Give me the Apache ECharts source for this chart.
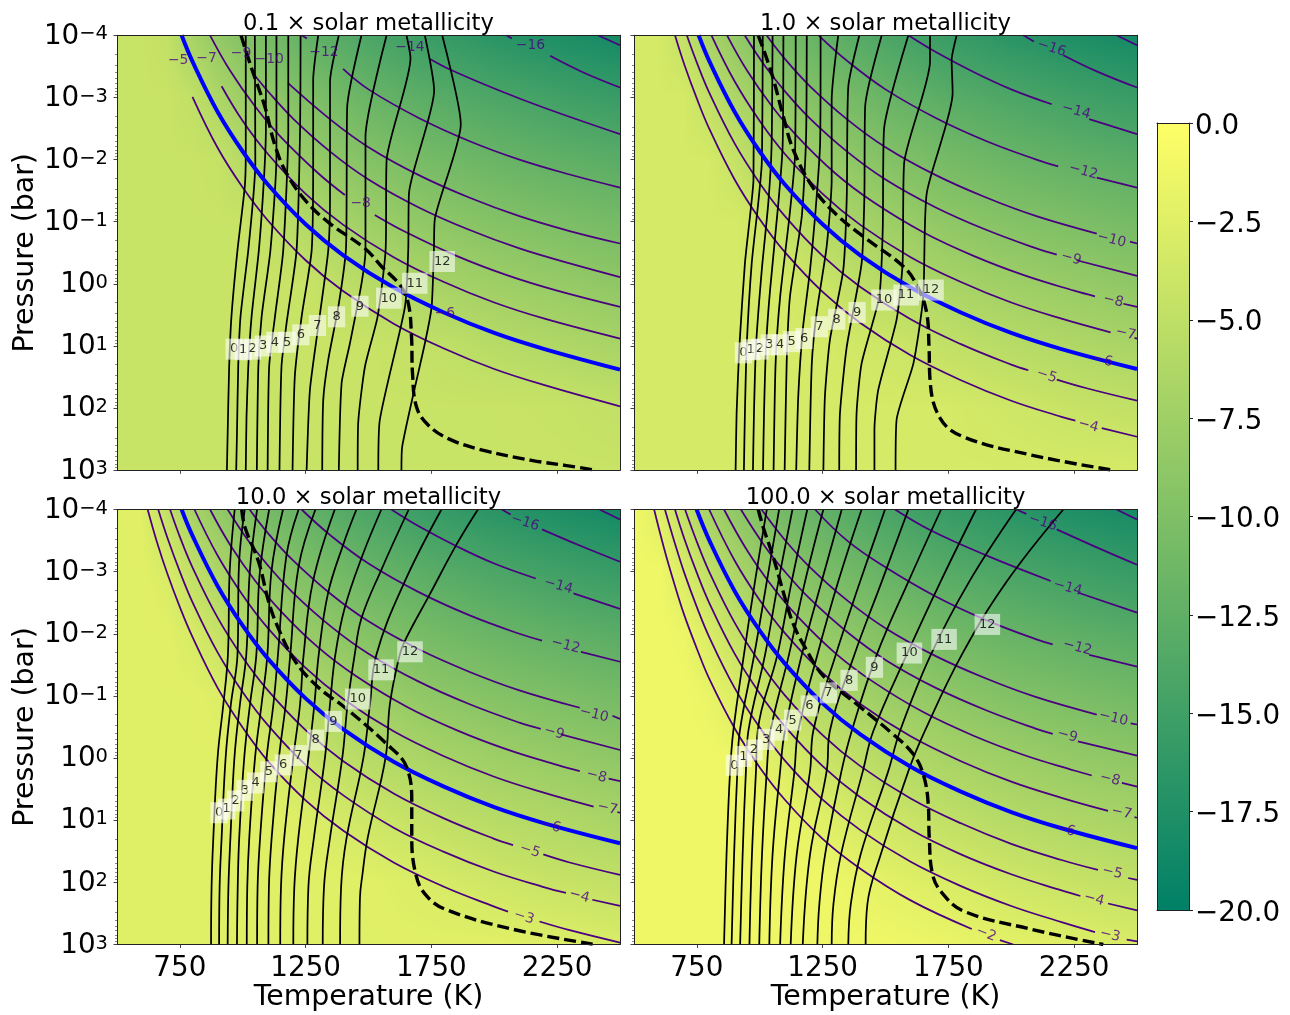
<!DOCTYPE html>
<html><head><meta charset="utf-8">
<style>html,body{margin:0;padding:0;background:#fff}#c{width:1290px;height:1015px}</style>
<script src="https://cdn.jsdelivr.net/npm/echarts@6/dist/echarts.min.js"></script>
</head><body><div id="c"></div>
<script>
// ---------- labels ----------
const panelTitles = ['0.1 × solar metallicity','1.0 × solar metallicity','10.0 × solar metallicity','100.0 × solar metallicity'];
const tempTicks = [750,1250,1750,2250];
const pressureDecades = [-4,-3,-2,-1,0,1,2,3];
const colorbarRange = [-20,0];

// ---------- background abundance (log10) read at temperature / log-pressure nodes ----------
const tempNodes = [500,600,700,800,900,1000,1100,1250,1500,1750,2000,2250,2500];
const logPNodes = [-4,-3,-2,-1,0,1,2,3];
const field01 = [
 [-4.3,-4.3,-4.8,-6.9,-8.5,-9.7,-10.8,-12.3,-14.1,-15.6,-16.8,-17.7,-18.5],
 [-4.3,-4.3,-4.3,-4.9,-6.5,-7.7,-8.8,-10,-11.8,-13,-14,-14.9,-15.6],
 [-4.3,-4.3,-4.3,-4.3,-4.5,-5.8,-6.8,-8.1,-9.6,-10.8,-11.7,-12.4,-13],
 [-4.3,-4.3,-4.3,-4.3,-4.3,-4.3,-4.8,-6.1,-7.6,-8.8,-9.6,-10.2,-10.8],
 [-4.3,-4.3,-4.3,-4.3,-4.3,-4.3,-4.3,-4.3,-5.7,-6.8,-7.6,-8.2,-8.8],
 [-4.3,-4.3,-4.3,-4.3,-4.3,-4.3,-4.3,-4.3,-4.3,-4.8,-5.6,-6.2,-6.8],
 [-4.3,-4.3,-4.3,-4.3,-4.3,-4.3,-4.3,-4.3,-4.3,-4.3,-4.3,-4.4,-4.8],
 [-4.3,-4.3,-4.3,-4.3,-4.3,-4.3,-4.3,-4.3,-4.3,-4.3,-4.3,-4.3,-4.3]];
const field1 = [
 [-3.3,-3.3,-4.8,-6.9,-8.5,-9.7,-10.8,-12.3,-14.1,-15.6,-16.8,-17.7,-18.5],
 [-3.3,-3.3,-3.3,-4.9,-6.5,-7.7,-8.8,-10,-11.8,-13,-14,-14.9,-15.6],
 [-3.3,-3.3,-3.3,-3.3,-4.5,-5.8,-6.8,-8.1,-9.6,-10.8,-11.7,-12.4,-13],
 [-3.3,-3.3,-3.3,-3.3,-3.3,-3.9,-4.8,-6.1,-7.6,-8.8,-9.6,-10.2,-10.8],
 [-3.3,-3.3,-3.3,-3.3,-3.3,-3.3,-3.3,-4.2,-5.7,-6.8,-7.6,-8.2,-8.8],
 [-3.3,-3.3,-3.3,-3.3,-3.3,-3.3,-3.3,-3.3,-3.9,-4.8,-5.6,-6.2,-6.8],
 [-3.3,-3.3,-3.3,-3.3,-3.3,-3.3,-3.3,-3.3,-3.3,-3.3,-3.8,-4.4,-4.8],
 [-3.3,-3.3,-3.3,-3.3,-3.3,-3.3,-3.3,-3.3,-3.3,-3.3,-3.3,-3.3,-3.3]];
const field10 = [
 [-2.4,-2.55,-4.8,-6.9,-8.5,-9.7,-10.8,-12.3,-14.1,-15.6,-16.8,-17.7,-18.5],
 [-2.4,-2.4,-3,-4.9,-6.5,-7.7,-8.8,-10,-11.8,-13,-14,-14.9,-15.6],
 [-2.4,-2.4,-2.4,-3.1,-4.5,-5.8,-6.8,-8.1,-9.6,-10.8,-11.7,-12.4,-13],
 [-2.4,-2.4,-2.4,-2.4,-2.7,-3.9,-4.8,-6.1,-7.6,-8.8,-9.6,-10.2,-10.8],
 [-2.4,-2.4,-2.4,-2.4,-2.4,-2.4,-3,-4.2,-5.7,-6.8,-7.6,-8.2,-8.8],
 [-2.4,-2.4,-2.4,-2.4,-2.4,-2.4,-2.4,-2.7,-3.9,-4.8,-5.6,-6.2,-6.8],
 [-2.4,-2.4,-2.4,-2.4,-2.4,-2.4,-2.4,-2.4,-2.4,-3,-3.8,-4.4,-4.8],
 [-2.4,-2.4,-2.4,-2.4,-2.4,-2.4,-2.4,-2.4,-2.4,-2.4,-2.4,-2.6,-3]];
const field100 = [
 [-1.2,-2.4,-4.9,-7,-8.7,-9.9,-11,-12.4,-14.3,-15.7,-16.8,-17.6,-18.3],
 [-1.2,-1.2,-3,-5,-6.6,-7.9,-9,-10.3,-12,-13.2,-14.2,-15,-15.7],
 [-1.2,-1.2,-1.5,-3,-4.6,-5.9,-7,-8.3,-9.8,-11,-11.9,-12.6,-13.2],
 [-1.2,-1.2,-1.2,-1.7,-2.8,-3.9,-5,-6.2,-7.8,-8.9,-9.8,-10.4,-11],
 [-1.2,-1.2,-1.2,-1.2,-1.4,-2.2,-3,-4.2,-5.8,-6.9,-7.7,-8.4,-8.9],
 [-1.2,-1.2,-1.2,-1.2,-1.2,-1.2,-1.6,-2.5,-3.8,-4.9,-5.8,-6.4,-6.9],
 [-1.2,-1.2,-1.2,-1.2,-1.2,-1.2,-1.2,-1.2,-2.2,-3,-3.8,-4.4,-4.9],
 [-1.2,-1.2,-1.2,-1.2,-1.2,-1.2,-1.2,-1.2,-1.2,-1.6,-2.2,-2.6,-3]];

const G = [null,null]; // break where a contour label sits

// ---------- contours [T, log10 P], panel 0.1 x solar ----------
const iso01 = [
 [[800,-3.01],[900,-2.19],[1000,-1.55],[1100,-1.02],[1250,-.38],[1400,.12],[1600,.64],[1800,1.04],[2000,1.37],[2200,1.63],[2500,1.97]],
 [[916,-3.18],[1000,-2.62],[1100,-2.09],[1250,-1.45],[1400,-.95],[1600,-.43],[1800,-.03],[2000,.3],[2200,.56],[2500,.88]],
 [[870,-4],[950,-3.43],[1050,-2.85],[1150,-2.37],[1300,-1.78],[1406,-1.43],G,[1525,-1.11],[1650,-.83],[1850,-.45],[2050,-.14],[2250,.11],[2500,.37]],
 [[1041,-3.39],[1100,-3.1],[1200,-2.66],[1350,-2.12],[1500,-1.68],[1700,-1.23],[1900,-.87],[2100,-.57],[2300,-.33],[2500,-.11]],
 [[1180,-3.23],[1350,-2.64],[1500,-2.2],[1700,-1.75],[1900,-1.39],[2100,-1.09],[2300,-.85],[2500,-.65]],
 [[1234,-4],[1255,-3.95],G,[1399,-3.46],[1500,-3.13],[1700,-2.67],[1900,-2.3],[2100,-2],[2300,-1.76],[2500,-1.55]],
 [[1745,-3.62],[1824,-3.45],[2015,-3.12],[2201,-2.83],[2500,-2.41]],
 [[2048,-4],[2070,-3.95],G,[2222,-3.67],[2350,-3.41],[2500,-3.16]],
 [[2412,-4],[2500,-3.84]]];
const blue01 = [[757,-4],[800,-3.58],[900,-2.77],[1000,-2.13],[1100,-1.6],[1250,-.96],[1400,-.46],[1600,.06],[1800,.46],[2000,.79],[2200,1.05],[2500,1.38]];
const iso01Labels = [['−5',743,-3.59],['−7',856,-3.63],['−9',993,-3.71],['−10',1105,-3.61],['−12',1323,-3.72],['−14',1665,-3.81],['−16',2144,-3.83],['−8',1469,-1.29],['−6',1804,.47]];
const iso01Angles = [0,0,0,0,0,0,0,0,0];

const black01 = [
 [[1012,-4],[1012,-2.1],[1008,-1.56],[979,-.54],[955,.53],[946,1.33],[940,2.41],[937,3]],
 [[1048,-4],[1050,-1.94],[1042,-1.4],[1022,-.54],[991,.53],[982,1.33],[977,2.41],[974,3]],
 [[1092,-4],[1092,-2.48],[1084,-1.67],[1064,-.54],[1035,.53],[1022,1.33],[1015,2.14],[1012,3]],
 [[1134,-4],[1134,-2.05],[1110,-.54],[1075,.53],[1062,1.33],[1056,3]],
 [[1181,-4],[1181,-2.48],[1161,-.54],[1128,.53],[1105,1.33],[1099,3]],
 [[1230,-4],[1228,-2.48],[1214,-.54],[1174,.64],[1154,1.33],[1146,3]],
 [[1300,-4],[1280,-3.28],[1280,-1.94],[1274,-.54],[1234,.53],[1207,1.49],[1198,3]],
 [[1382,-4],[1347,-3.25],[1347,-1.4],[1340,-.54],[1300,.69],[1267,1.71],[1254,3]],
 [[1472,-4],[1415,-2.83],[1413,-1.4],[1410,-.54],[1380,.37],[1340,1.22],[1320,1.87],[1316,3]],
 [[1572,-4],[1488,-2.37],[1488,-.54],[1472,0],[1426,.96],[1393,1.6],[1382,3]],
 [[1651,-4],[1667,-3.63],[1572,-1.99],[1568,-.54],[1536,.53],[1486,1.33],[1459,2.24],[1457,3]],
 [[1724,-4],[1761,-3.11],[1661,-1.46],[1658,-.54],[1645,.37],[1545,2.19],[1539,3]],
 [[1793,-4],[1867,-2.57],[1764,-1.05],[1760,-.54],[1751,.37],[1724,.96],[1634,2.62],[1631,3]]];
const dash01 = [[993,-4],[1035,-3.47],[1088,-2.85],[1128,-2.23],[1174,-1.78],[1254,-1.32],[1347,-.97],[1486,-.57],[1552,-.28],[1625,.02],[1658,.31],[1671,.85],[1675,1.44],[1691,1.98],[1737,2.27],[1817,2.49],[1949,2.67],[2148,2.84],[2281,2.92],[2407,3]];
const box01 = [[966,1.05],[1002,1.06],[1039,1.05],[1081,1],[1128,.94],[1176,.94],[1231,.82],[1297,.67],[1373,.53],[1466,.36],[1581,.23],[1684,-.01],[1793,-.36]];

// ---------- panel 1.0 x solar ----------
const iso1 = [
 [[663,-4],[700,-3.53],[750,-2.98],[800,-2.49],[900,-1.68],[1000,-1.04],[1100,-.51],[1250,.13],[1400,.63],[1600,1.15],[1800,1.55],[2000,1.88],[2200,2.14],[2255,2.2],G,[2360,2.32],[2500,2.46]],
 [[710,-4],[750,-3.56],[800,-3.07],[900,-2.26],[1000,-1.62],[1100,-1.09],[1250,-.45],[1400,.05],[1600,.57],[1800,.97],[2000,1.3],[2068,1.39],G,[2181,1.54],[2300,1.68],[2500,1.88]],
 [[808,-4],[900,-3.26],[1000,-2.62],[1100,-2.09],[1250,-1.45],[1400,-.95],[1600,-.43],[1800,-.03],[2000,.3],[2200,.56],[2395,.78],G,[2490,.87],[2500,.88]],
 [[870,-4],[950,-3.43],[1050,-2.85],[1150,-2.37],[1300,-1.78],[1450,-1.32],[1650,-.83],[1850,-.45],[2050,-.14],[2250,.11],[2333,.2],G,[2446,.32],[2500,.37]],
 [[940,-4],[1020,-3.51],[1100,-3.1],[1200,-2.66],[1350,-2.12],[1500,-1.68],[1700,-1.23],[1900,-.87],[2100,-.57],[2181,-.47],G,[2260,-.38],[2500,-.13]],
 [[1027,-4],[1100,-3.62],[1200,-3.18],[1350,-2.64],[1500,-2.2],[1700,-1.75],[1900,-1.39],[2100,-1.09],[2340,-.81],G,[2472,-.68],[2500,-.65]],
 [[1234,-4],[1350,-3.58],[1500,-3.13],[1700,-2.67],[1900,-2.3],[2100,-2],[2187,-1.89],G,[2340,-1.71],[2500,-1.55]],
 [[1591,-4],[1700,-3.73],[1850,-3.41],[2000,-3.13],[2161,-2.89],G,[2310,-2.65],[2500,-2.41]],
 [[2048,-4],[2090,-3.9],G,[2207,-3.68],[2340,-3.42],[2500,-3.16]],
 [[2419,-4],[2500,-3.84]]];
const blue1 = [[757,-4],[800,-3.58],[900,-2.77],[1000,-2.13],[1100,-1.6],[1250,-.96],[1400,-.46],[1600,.06],[1800,.46],[2000,.79],[2200,1.05],[2500,1.37]];
const iso1Labels = [['−16',2160,-3.79],['−14',2258,-2.78],['−12',2287,-1.81],['−10',2399,-.71],['−9',2238,-.41],['−8',2406,.27],['−7',2455,.8],['−6',2363,1.23],['−5',2141,1.48],['−4',2306,2.28]];
const iso1Angles = [-18,-16,-15,-14,-16,-14,-13,-14,-18,-15];
const black1 = [
 [[977,-4],[975,-1.67],[961,-1.08],[941,-.33],[919,1.01],[908,2.08],[904,3]],
 [[1012,-4],[1008,-1.94],[994,-1.3],[968,-.33],[948,1.01],[941,2.08],[937,3]],
 [[1051,-4],[1047,-2.21],[1034,-1.3],[1008,-.22],[985,1.01],[977,2.08],[973,3]],
 [[1094,-4],[1091,-2.21],[1074,-1.3],[1041,.1],[1025,1.01],[1017,2.08],[1013,3]],
 [[1143,-4],[1140,-2.05],[1118,-1.08],[1081,.21],[1063,1.28],[1055,3]],
 [[1187,-4],[1184,-2.32],[1167,-1.08],[1120,.21],[1107,1.28],[1099,3]],
 [[1242,-4],[1240,-2.26],[1220,-1.08],[1200,-.22],[1171,.74],[1153,1.82],[1145,3]],
 [[1312,-4],[1286,-2.96],[1286,-1.67],[1266,-.6],[1226,.47],[1207,1.28],[1197,3]],
 [[1396,-4],[1352,-3.17],[1346,-1.4],[1332,-.22],[1279,.9],[1259,1.82],[1253,3]],
 [[1485,-4],[1419,-2.85],[1416,-1.4],[1405,-.33],[1346,1.01],[1319,2.08],[1316,3]],
 [[1591,-4],[1494,-2.48],[1489,-.87],[1475,.21],[1405,1.28],[1385,2.08],[1383,3]],
 [[1677,-4],[1677,-3.58],[1574,-1.94],[1568,-.33],[1544,.58],[1471,1.71],[1456,2.35],[1456,3]],
 [[1783,-4],[1763,-3.6],[1767,-3.07],[1664,-1.46],[1650,.21],[1611,1.28],[1544,2.19],[1540,3]]];
const dash1 = [[994,-4],[1047,-3.39],[1094,-2.69],[1134,-2.15],[1213,-1.54],[1306,-1.11],[1412,-.76],[1571,-.28],[1624,.02],[1664,.47],[1673,1.01],[1677,1.54],[1717,2.16],[1809,2.46],[2075,2.75],[2406,3]];
const box1 = [[935,1.11],[965,1.06],[1001,1.05],[1038,.98],[1081,.98],[1127,.93],[1176,.88],[1237,.69],[1306,.57],[1387,.46],[1494,.26],[1582,.18],[1681,.1]];

// ---------- panel 10 x solar ----------
const iso10 = [
 [[622,-4],[660,-3.46],[700,-2.97],[750,-2.43],[800,-1.95],[900,-1.13],[1000,-.49],[1100,.05],[1250,.68],[1400,1.17],[1600,1.68],[1800,2.07],[2000,2.39],[2055,2.47],G,[2180,2.63],[2300,2.77],[2500,2.97]],
 [[664,-4],[700,-3.55],[750,-3],[800,-2.51],[900,-1.7],[1000,-1.06],[1100,-.53],[1250,.11],[1400,.6],[1600,1.12],[1800,1.51],[2000,1.83],[2200,2.08],[2285,2.17],G,[2390,2.28],[2500,2.38]],
 [[711,-4],[750,-3.56],[800,-3.07],[900,-2.26],[1000,-1.62],[1100,-1.09],[1250,-.45],[1400,.05],[1600,.57],[1800,.97],[2000,1.3],[2075,1.4],G,[2195,1.55],[2300,1.68],[2500,1.88]],
 [[808,-4],[900,-3.26],[1000,-2.62],[1100,-2.09],[1250,-1.45],[1400,-.95],[1600,-.43],[1800,-.03],[2000,.3],[2200,.56],[2395,.78],G,[2490,.87],[2500,.88]],
 [[870,-4],[950,-3.43],[1050,-2.85],[1150,-2.37],[1300,-1.78],[1450,-1.32],[1650,-.83],[1850,-.45],[2050,-.14],[2250,.11],[2340,.21],G,[2455,.33],[2500,.37]],
 [[940,-4],[1020,-3.51],[1100,-3.1],[1200,-2.66],[1350,-2.12],[1500,-1.68],[1700,-1.23],[1900,-.87],[2100,-.57],[2185,-.47],G,[2265,-.38],[2500,-.13]],
 [[1027,-4],[1100,-3.62],[1200,-3.18],[1350,-2.64],[1500,-2.2],[1700,-1.75],[1900,-1.39],[2100,-1.09],[2340,-.81],G,[2470,-.68],[2500,-.63]],
 [[1234,-4],[1350,-3.58],[1500,-3.13],[1700,-2.67],[1900,-2.3],[2100,-2],[2190,-1.89],G,[2345,-1.71],[2500,-1.55]],
 [[1591,-4],[1700,-3.73],[1850,-3.41],[2000,-3.13],[2165,-2.89],G,[2315,-2.65],[2500,-2.4]],
 [[2030,-4],[2065,-3.92],G,[2190,-3.68],[2340,-3.42],[2500,-3.16]],
 [[2419,-4],[2500,-3.84]]];
const blue10 = [[757,-4],[800,-3.58],[900,-2.77],[1000,-2.13],[1100,-1.6],[1250,-.96],[1400,-.46],[1600,.06],[1800,.46],[2000,.79],[2200,1.05],[2500,1.37]];
const iso10Labels = [['−16',2122,-3.79],['−14',2255,-2.77],['−12',2284,-1.81],['−10',2397,-.7],['−9',2238,-.41],['−8',2407,.29],['−7',2450,.81],['−6',2224,1.09],['−5',2142,1.49],['−4',2338,2.22],['−3',2118,2.56]];
const iso10Angles = [-18,-16,-15,-14,-16,-14,-13,-16,-18,-15,-18];
const black10 = [
 [[968,-4],[948,-3],[941,-1.66],[923,-.87],[900,-.01],[883,1.28],[876,2.08],[874,3]],
 [[1008,-4],[985,-3.11],[979,-1.66],[953,-.87],[932,-.01],[916,1.28],[908,2.08],[906,3]],
 [[1057,-4],[1028,-3],[1014,-1.66],[989,-.87],[967,-.01],[951,1.28],[943,2.08],[940,3]],
 [[1105,-4],[1067,-2.95],[1054,-1.66],[1029,-.87],[1006,-.01],[986,1.28],[980,2.08],[977,3]],
 [[1160,-4],[1114,-3],[1098,-1.66],[1075,-.87],[1049,-.01],[1026,1.28],[1018,2.08],[1016,3]],
 [[1222,-4],[1173,-3.24],[1140,-1.66],[1122,-.87],[1095,-.01],[1069,1.28],[1059,2.08],[1057,3]],
 [[1289,-4],[1222,-3.08],[1189,-1.66],[1171,-.87],[1144,-.01],[1115,1.28],[1104,2.08],[1102,3]],
 [[1366,-4],[1279,-2.84],[1242,-1.66],[1228,-.87],[1201,-.01],[1165,1.28],[1152,2.08],[1149,3]],
 [[1452,-4],[1399,-3.43],[1339,-2.65],[1302,-1.66],[1285,-.87],[1261,-.01],[1221,1.28],[1205,2.08],[1201,3]],
 [[1551,-4],[1474,-3.24],[1405,-2.41],[1368,-1.66],[1347,-.87],[1327,-.01],[1283,1.28],[1261,2.08],[1257,3]],
 [[1660,-4],[1551,-3.03],[1472,-2.25],[1445,-1.66],[1417,-.87],[1396,-.01],[1347,1.28],[1323,2.08],[1318,3]],
 [[1790,-4],[1644,-2.84],[1531,-1.66],[1506,-.87],[1480,-.01],[1413,1.28],[1391,2.08],[1387,3]],
 [[1935,-4],[1849,-3.43],[1743,-2.63],[1650,-1.93],[1624,-1.66],[1585,-.87],[1568,-.01],[1497,1.28],[1476,1.87],[1466,2.25],[1464,3]]];
const dash10 = [[996,-4],[1009,-3.71],[1062,-3.17],[1102,-2.53],[1135,-2.15],[1208,-1.56],[1300,-1.14],[1407,-.81],[1566,-.25],[1652,.15],[1672,.74],[1672,1.28],[1688,1.87],[1725,2.19],[1804,2.43],[2069,2.75],[2401,3]];
const box10 = [[906,.88],[936,.82],[972,.69],[1009,.52],[1051,.4],[1104,.22],[1161,.11],[1221,-.04],[1290,-.29],[1360,-.59],[1457,-.95],[1550,-1.42],[1665,-1.71]];

// ---------- panel 100 x solar ----------
const iso100 = [
 [[580,-4],[620,-3.37],[660,-2.81],[700,-2.3],[750,-1.76],[800,-1.27],[900,-.48],[1000,.15],[1100,.67],[1250,1.3],[1400,1.78],[1600,2.29],[1843,2.75],G,[1955,2.93],[2008,3]],
 [[623,-4],[660,-3.49],[700,-2.98],[750,-2.43],[800,-1.94],[900,-1.13],[1000,-.49],[1100,.04],[1250,.67],[1400,1.16],[1600,1.67],[1800,2.06],[2000,2.38],[2200,2.64],[2333,2.8],G,[2459,2.92],[2500,2.95]],
 [[663,-4],[700,-3.53],[750,-2.98],[800,-2.49],[900,-1.68],[1000,-1.04],[1100,-.51],[1250,.13],[1400,.63],[1600,1.15],[1800,1.55],[2000,1.87],[2200,2.13],[2275,2.22],G,[2385,2.34],[2500,2.45]],
 [[703,-4],[750,-3.48],[800,-2.99],[900,-2.18],[1000,-1.54],[1100,-1.01],[1250,-.37],[1400,.13],[1600,.65],[1800,1.05],[2000,1.38],[2200,1.64],[2345,1.8],G,[2465,1.93],[2500,1.96]],
 [[799,-4],[900,-3.18],[1000,-2.54],[1100,-2.01],[1250,-1.37],[1400,-.87],[1600,-.35],[1800,.05],[2000,.38],[2200,.64],[2385,.85],G,[2490,.95],[2500,.96]],
 [[858,-4],[950,-3.34],[1050,-2.76],[1150,-2.28],[1300,-1.69],[1450,-1.23],[1650,-.74],[1850,-.36],[2050,-.05],[2250,.2],[2320,.28],G,[2440,.4],[2500,.46]],
 [[925,-4],[1020,-3.41],[1100,-3],[1200,-2.56],[1350,-2.02],[1500,-1.58],[1700,-1.13],[1900,-.77],[2100,-.47],[2165,-.39],G,[2265,-.27],[2500,-.04]],
 [[1007,-4],[1100,-3.51],[1200,-3.07],[1350,-2.53],[1500,-2.09],[1700,-1.64],[1900,-1.28],[2100,-.98],[2340,-.7],G,[2475,-.56],[2500,-.54]],
 [[1220,-4],[1350,-3.49],[1500,-3.07],[1700,-2.6],[1900,-2.22],[2100,-1.91],[2165,-1.83],G,[2310,-1.66],[2500,-1.47]],
 [[1538,-4],[1677,-3.67],[1896,-3.27],[2157,-2.85],G,[2267,-2.66],[2500,-2.34]],
 [[2020,-4],[2060,-3.93],G,[2181,-3.68],[2340,-3.39],[2500,-3.11]],
 [[2419,-4],[2500,-3.84]]];
const blue100 = [[749,-4],[800,-3.5],[900,-2.69],[1000,-2.05],[1100,-1.52],[1250,-.88],[1400,-.38],[1600,.14],[1800,.54],[2000,.87],[2200,1.13],[2500,1.45]];
const iso100Labels = [['−16',2125,-3.79],['−14',2224,-2.74],['−12',2263,-1.78],['−10',2406,-.64],['−9',2223,-.36],['−8',2393,.34],['−7',2439,.88],['−6',2214,1.15],['−5',2402,1.84],['−4',2329,2.27],['−3',2393,2.85],['−2',1900,2.83]];
const iso100Angles = [-18,-16,-15,-14,-16,-14,-13,-16,-14,-15,-14,-22];
const black100 = [
 [[1028,-4],[981,-2.84],[937,-1.66],[895,-.44],[882,.21],[868,1.55],[858,3]],
 [[1077,-4],[1028,-2.84],[978,-1.66],[921,-.44],[911,.21],[898,1.55],[888,3]],
 [[1130,-4],[1074,-2.84],[1021,-1.66],[955,-.44],[945,.21],[932,1.55],[922,3]],
 [[1189,-4],[1127,-2.84],[1070,-1.66],[992,-.44],[985,.21],[969,1.55],[959,3]],
 [[1253,-4],[1180,-2.84],[1116,-1.66],[1043,-.44],[1028,.21],[1009,1.55],[998,3]],
 [[1326,-4],[1246,-2.84],[1167,-1.66],[1100,-.44],[1081,.21],[1051,1.55],[1038,3]],
 [[1405,-4],[1312,-2.84],[1229,-1.66],[1153,-.44],[1138,.21],[1100,1.55],[1081,3]],
 [[1498,-4],[1399,-2.84],[1302,-1.66],[1213,-.44],[1200,.21],[1147,1.55],[1123,3]],
 [[1591,-4],[1485,-2.84],[1376,-1.66],[1279,-.44],[1266,.21],[1200,1.55],[1171,3]],
 [[1721,-4],[1591,-2.84],[1465,-1.66],[1366,-.44],[1325,.21],[1260,1.55],[1237,2.35],[1229,3]],
 [[1860,-4],[1719,-2.84],[1584,-1.66],[1452,-.44],[1410,.21],[1323,1.55],[1293,2.35],[1286,3]],
 [[2019,-4],[1833,-2.84],[1680,-1.66],[1558,-.44],[1511,.21],[1401,1.55],[1362,2.35],[1352,3]],
 [[2207,-4],[1982,-2.84],[1803,-1.66],[1657,-.44],[1591,.21],[1481,1.55],[1428,2.35],[1421,3]]];
const dash100 = [[994,-4],[1014,-3.71],[1054,-3.23],[1100,-2.58],[1134,-2.15],[1180,-1.78],[1253,-1.32],[1385,-.87],[1531,-.38],[1611,-.06],[1650,.26],[1670,.74],[1674,1.28],[1687,1.87],[1723,2.16],[1809,2.46],[2075,2.75],[2366,3]];
const box100 = [[899,.115],[935,-.025],[977,-.13],[1025,-.3],[1077,-.45],[1131,-.61],[1197,-.84],[1273,-1.05],[1355,-1.25],[1456,-1.46],[1595,-1.69],[1733,-1.91],[1905,-2.15]];

// ---------- assembling the chart ----------
const FONT = 'DejaVu Sans';
const panels = [
 {field:field01, iso:iso01, blue:blue01, labels:iso01Labels, angles:iso01Angles, black:black01, dash:dash01, box:box01, left:117, top:35.3},
 {field:field1, iso:iso1, blue:blue1, labels:iso1Labels, angles:iso1Angles, black:black1, dash:dash1, box:box1, left:634, top:35.3},
 {field:field10, iso:iso10, blue:blue10, labels:iso10Labels, angles:iso10Angles, black:black10, dash:dash10, box:box10, left:117, top:509.5},
 {field:field100, iso:iso100, blue:blue100, labels:iso100Labels, angles:iso100Angles, black:black100, dash:dash100, box:box100, left:634, top:509.5}];
const PW = 503, PH = 435;

const rgb = v => { const t = Math.max(0, Math.min(1, (v+20)/20)); return [255*t, 255*(.5+.5*t), 102]; };

function cellItem(params, api){
  const t0=api.value(0), t1=api.value(1), l0=api.value(2), l1=api.value(3);
  const a=api.value(4), b=api.value(5), c=api.value(6), d=api.value(7);
  const p0=api.coord([t0,l0]), p1=api.coord([t1,l1]);
  const x=Math.round(p0[0]), y=Math.round(p0[1]);
  const w=Math.max(1,Math.round(p1[0])-x), h=Math.max(1,Math.round(p1[1])-y);
  const cv=document.createElement('canvas'); cv.width=w; cv.height=h;
  const ctx=cv.getContext('2d'); const im=ctx.createImageData(w,h);
  for(let j=0;j<h;j++){ const fy=(j+.5)/h;
    for(let i=0;i<w;i++){ const fx=(i+.5)/w;
      const v=(a*(1-fx)+b*fx)*(1-fy)+(c*(1-fx)+d*fx)*fy;
      const col=rgb(v), k=(j*w+i)*4;
      im.data[k]=col[0]; im.data[k+1]=col[1]; im.data[k+2]=col[2]; im.data[k+3]=255;
    }}
  ctx.putImageData(im,0,0);
  return {type:'image',style:{image:cv,x:x,y:y,width:w,height:h}};
}
function fieldCells(f){
  const out=[];
  for(let r=0;r<logPNodes.length-1;r++) for(let q=0;q<tempNodes.length-1;q++)
    out.push([tempNodes[q],tempNodes[q+1],logPNodes[r],logPNodes[r+1],f[r][q],f[r][q+1],f[r+1][q],f[r+1][q+1]]);
  return out;
}
const minorTicks=[];
pressureDecades.slice(0,-1).forEach(d=>{[2,3,4,5,6,7,8,9].forEach(m=>minorTicks.push(d+Math.log10(m)));});

const sup = v => '{b|10}{s|'+(v<0?'−'+(-v):v)+'}';
const grid=[], xAxis=[], yAxis=[], series=[], title=[];
panels.forEach((p,i)=>{
  grid.push({left:p.left,top:p.top,width:PW,height:PH,show:false,outerBoundsMode:'none'});
  const bottomRow=i>=2, leftCol=i%2===0;
  xAxis.push({gridIndex:i,type:'value',min:500,max:2500,position:'bottom',z:10,
    splitLine:{show:false},axisLine:{show:true,onZero:false,lineStyle:{color:'#222',width:1}},
    axisTick:{show:true,customValues:tempTicks,length:3.5,lineStyle:{color:'#333',width:.9}},
    axisLabel:{show:bottomRow,customValues:tempTicks,fontFamily:FONT,fontSize:27.8,color:'#000',margin:10,formatter:v=>String(v)},
    name:bottomRow?'Temperature (K)':'',nameLocation:'middle',nameGap:38,nameTextStyle:{fontFamily:FONT,fontSize:28.4,color:'#000'}});
  xAxis.push({gridIndex:i,type:'value',min:500,max:2500,position:'top',z:10,splitLine:{show:false},
    axisLine:{show:true,onZero:false,lineStyle:{color:'#222',width:1}},axisTick:{show:false},axisLabel:{show:false}});
  yAxis.push({gridIndex:i,type:'value',min:-4,max:3,interval:1,inverse:true,position:'left',z:10,
    splitLine:{show:false},axisLine:{show:true,onZero:false,lineStyle:{color:'#222',width:1}},
    axisTick:{show:true,customValues:pressureDecades,length:3.5,lineStyle:{color:'#333',width:.9}},
    axisLabel:{show:leftCol,customValues:pressureDecades,margin:9,formatter:sup,color:'#000',
      rich:{b:{fontFamily:FONT,fontSize:27.8,color:'#000',lineHeight:30,verticalAlign:'bottom'},
            s:{fontFamily:FONT,fontSize:19.5,color:'#000',lineHeight:30,verticalAlign:'top',padding:[4,0,10,0]}}},
    name:leftCol?'Pressure (bar)':'',nameLocation:'middle',nameGap:77,nameRotate:90,nameTextStyle:{fontFamily:FONT,fontSize:28.4,color:'#000'}});
  yAxis.push({gridIndex:i,type:'value',min:-4,max:3,inverse:true,position:'left',z:9,splitLine:{show:false},
    axisLine:{show:false},axisLabel:{show:false},
    axisTick:{show:true,customValues:minorTicks,length:2,lineStyle:{color:'#555',width:.7}}});
  yAxis.push({gridIndex:i,type:'value',min:-4,max:3,inverse:true,position:'right',z:10,splitLine:{show:false},
    axisLine:{show:true,onZero:false,lineStyle:{color:'#222',width:1}},axisTick:{show:false},axisLabel:{show:false}});
  title.push({text:panelTitles[i],left:p.left+PW/2,top:p.top-23,padding:0,textAlign:'center',
    textStyle:{fontFamily:FONT,fontSize:22.7,fontWeight:'normal',color:'#000'}});

  const xi=i*2, yi=i*3;
  series.push({type:'custom',xAxisIndex:xi,yAxisIndex:yi,silent:true,z:1,clip:true,
    encode:{x:[0,1],y:[2,3]},renderItem:cellItem,data:fieldCells(p.field)});
  const line=(data,color,width,z,extra)=>series.push(Object.assign({type:'line',xAxisIndex:xi,yAxisIndex:yi,data:data,
    showSymbol:false,silent:true,smooth:.4,z:z,clip:true,connectNulls:false,lineStyle:{color:color,width:width,cap:'butt'}},extra||{}));
  p.iso.forEach(s=>line(s,'#4b0082',1.75,3));
  p.black.forEach(s=>line(s,'#000',1.75,4,{smooth:i<2?.2:.4}));
  line(p.blue,'#0000ff',4,5);
  line(p.dash,'#000',3.4,6,{lineStyle:{color:'#000',width:3.4,type:[12,5],cap:'butt'}});
  series.push({type:'scatter',xAxisIndex:xi,yAxisIndex:yi,symbolSize:1,itemStyle:{color:'transparent'},silent:true,z:7,
    data:p.labels.map((l,k)=>({value:[l[1],l[2],l[0]],label:{rotate:p.angles[k]}})),
    label:{show:true,position:'inside',formatter:q=>q.value[2],fontFamily:FONT,fontSize:13.9,color:'#4b0082'}});
  series.push({type:'scatter',xAxisIndex:xi,yAxisIndex:yi,symbolSize:1,itemStyle:{color:'transparent'},silent:true,z:8,
    data:p.box.map((b,k)=>[b[0],b[1],String(k)]),
    label:{show:true,position:'inside',formatter:q=>q.value[2],fontFamily:FONT,fontSize:13,color:'#000',
      backgroundColor:'rgba(255,255,255,.72)',padding:[4,4.5,4,4.5],lineHeight:13}});
});

// colour bar
grid.push({left:1157,top:123,width:32,height:787,show:false,outerBoundsMode:'none'});
const cbx=xAxis.length, cby=yAxis.length;
xAxis.push({gridIndex:4,type:'value',min:0,max:1,position:'bottom',z:10,splitLine:{show:false},axisTick:{show:false},axisLabel:{show:false},
  axisLine:{show:true,onZero:false,lineStyle:{color:'#222',width:1}}});
xAxis.push({gridIndex:4,type:'value',min:0,max:1,position:'top',z:10,splitLine:{show:false},axisTick:{show:false},axisLabel:{show:false},
  axisLine:{show:true,onZero:false,lineStyle:{color:'#222',width:1}}});
yAxis.push({gridIndex:4,type:'value',min:colorbarRange[0],max:colorbarRange[1],interval:2.5,position:'right',z:10,splitLine:{show:false},
  axisLine:{show:true,onZero:false,lineStyle:{color:'#222',width:1}},axisTick:{show:true,length:4,lineStyle:{color:'#222',width:1}},
  axisLabel:{margin:6,formatter:v=>'{v|'+(v<0?'−':'')+Math.abs(v).toFixed(1)+'}',
    rich:{v:{fontFamily:FONT,fontSize:27.8,color:'#000',lineHeight:30,padding:[7,0,0,0]}}}});
yAxis.push({gridIndex:4,type:'value',min:colorbarRange[0],max:colorbarRange[1],position:'left',z:10,splitLine:{show:false},axisTick:{show:false},axisLabel:{show:false},
  axisLine:{show:true,onZero:false,lineStyle:{color:'#222',width:1}}});
series.push({type:'custom',xAxisIndex:cbx,yAxisIndex:cby,silent:true,z:1,encode:{y:[0,1]},data:[[colorbarRange[0],colorbarRange[1]]],
  renderItem:(params,api)=>{
    const lo=api.coord([0,api.value(0)]), hi=api.coord([1,api.value(1)]);
    return {type:'rect',shape:{x:lo[0],y:hi[1],width:hi[0]-lo[0],height:lo[1]-hi[1]},
      style:{fill:{type:'linear',x:0,y:0,x2:0,y2:1,colorStops:[{offset:0,color:'#ffff66'},{offset:1,color:'#008066'}]}}};
  }});

const chart=echarts.init(document.getElementById('c'),null,{renderer:'canvas'});
chart.setOption({animation:false,backgroundColor:'#fff',tooltip:{show:false},title,grid,xAxis,yAxis,series});
</script></body></html>
